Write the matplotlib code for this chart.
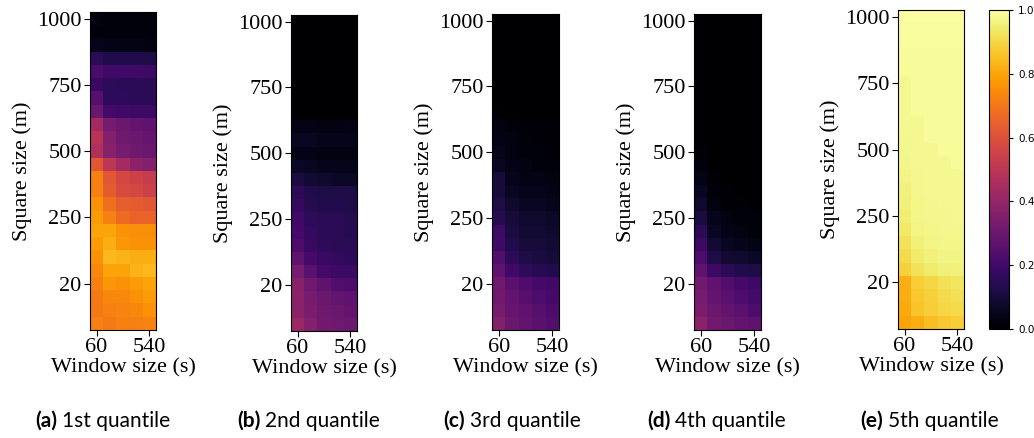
import numpy as np
import matplotlib.pyplot as plt

# window sizes (s) -> columns, square sizes (m) -> rows (top to bottom)
window_sizes = [60, 180, 300, 420, 540]
square_sizes = [1000, 950, 900, 850, 800, 750, 700, 650, 600, 550, 500, 450,
                400, 350, 300, 250, 200, 150, 100, 50, 20, 10, 5, 1]
shown_windows = [60, 540]
shown_squares = [1000, 750, 500, 250, 20]

q1 = [[0.03, 0.02, 0.02, 0.02, 0.02],
      [0.02, 0.02, 0.02, 0.02, 0.02],
      [0.05, 0.04, 0.04, 0.04, 0.03],
      [0.15, 0.13, 0.13, 0.13, 0.12],
      [0.22, 0.20, 0.20, 0.20, 0.19],
      [0.18, 0.16, 0.15, 0.15, 0.15],
      [0.25, 0.16, 0.16, 0.15, 0.15],
      [0.30, 0.21, 0.20, 0.19, 0.19],
      [0.44, 0.33, 0.30, 0.28, 0.27],
      [0.49, 0.36, 0.31, 0.30, 0.29],
      [0.47, 0.37, 0.33, 0.31, 0.30],
      [0.62, 0.50, 0.44, 0.38, 0.36],
      [0.72, 0.62, 0.57, 0.55, 0.53],
      [0.72, 0.63, 0.58, 0.57, 0.55],
      [0.76, 0.68, 0.64, 0.63, 0.62],
      [0.78, 0.72, 0.67, 0.65, 0.65],
      [0.80, 0.80, 0.76, 0.75, 0.75],
      [0.78, 0.82, 0.77, 0.76, 0.76],
      [0.76, 0.84, 0.83, 0.82, 0.82],
      [0.74, 0.80, 0.80, 0.83, 0.84],
      [0.72, 0.77, 0.76, 0.78, 0.80],
      [0.71, 0.74, 0.74, 0.76, 0.78],
      [0.71, 0.72, 0.73, 0.74, 0.76],
      [0.72, 0.71, 0.72, 0.72, 0.73]]

q2 = [[0.00, 0.00, 0.00, 0.00, 0.00],
      [0.00, 0.00, 0.00, 0.00, 0.00],
      [0.00, 0.00, 0.00, 0.00, 0.00],
      [0.00, 0.00, 0.00, 0.00, 0.00],
      [0.00, 0.00, 0.00, 0.00, 0.00],
      [0.00, 0.00, 0.00, 0.00, 0.00],
      [0.00, 0.00, 0.00, 0.00, 0.00],
      [0.00, 0.00, 0.00, 0.00, 0.00],
      [0.04, 0.04, 0.03, 0.03, 0.04],
      [0.06, 0.06, 0.05, 0.05, 0.05],
      [0.04, 0.04, 0.03, 0.03, 0.03],
      [0.07, 0.06, 0.05, 0.05, 0.05],
      [0.11, 0.09, 0.08, 0.07, 0.07],
      [0.15, 0.13, 0.12, 0.12, 0.12],
      [0.17, 0.14, 0.13, 0.13, 0.12],
      [0.20, 0.16, 0.15, 0.15, 0.14],
      [0.21, 0.17, 0.15, 0.15, 0.14],
      [0.23, 0.18, 0.16, 0.15, 0.15],
      [0.27, 0.21, 0.18, 0.17, 0.16],
      [0.33, 0.26, 0.21, 0.19, 0.19],
      [0.37, 0.31, 0.27, 0.24, 0.23],
      [0.38, 0.33, 0.30, 0.28, 0.27],
      [0.38, 0.34, 0.31, 0.30, 0.28],
      [0.42, 0.36, 0.32, 0.31, 0.30]]

q3 = [[0.00, 0.00, 0.00, 0.00, 0.00],
      [0.00, 0.00, 0.00, 0.00, 0.00],
      [0.00, 0.00, 0.00, 0.00, 0.00],
      [0.00, 0.00, 0.00, 0.00, 0.00],
      [0.00, 0.00, 0.00, 0.00, 0.00],
      [0.00, 0.00, 0.00, 0.00, 0.00],
      [0.00, 0.00, 0.00, 0.00, 0.00],
      [0.01, 0.00, 0.00, 0.00, 0.00],
      [0.03, 0.02, 0.01, 0.01, 0.01],
      [0.04, 0.03, 0.02, 0.01, 0.01],
      [0.05, 0.03, 0.02, 0.02, 0.01],
      [0.06, 0.04, 0.03, 0.02, 0.02],
      [0.10, 0.05, 0.04, 0.04, 0.03],
      [0.10, 0.06, 0.05, 0.05, 0.04],
      [0.12, 0.08, 0.06, 0.06, 0.05],
      [0.14, 0.10, 0.08, 0.08, 0.07],
      [0.19, 0.11, 0.09, 0.09, 0.08],
      [0.20, 0.13, 0.10, 0.10, 0.09],
      [0.24, 0.15, 0.12, 0.11, 0.10],
      [0.27, 0.20, 0.16, 0.14, 0.13],
      [0.31, 0.26, 0.23, 0.21, 0.20],
      [0.32, 0.28, 0.25, 0.23, 0.21],
      [0.33, 0.29, 0.27, 0.25, 0.23],
      [0.36, 0.30, 0.28, 0.26, 0.24]]

q4 = [[0.00, 0.00, 0.00, 0.00, 0.00],
      [0.00, 0.00, 0.00, 0.00, 0.00],
      [0.00, 0.00, 0.00, 0.00, 0.00],
      [0.00, 0.00, 0.00, 0.00, 0.00],
      [0.00, 0.00, 0.00, 0.00, 0.00],
      [0.00, 0.00, 0.00, 0.00, 0.00],
      [0.00, 0.00, 0.00, 0.00, 0.00],
      [0.00, 0.00, 0.00, 0.00, 0.00],
      [0.00, 0.00, 0.00, 0.00, 0.00],
      [0.00, 0.00, 0.00, 0.00, 0.00],
      [0.01, 0.00, 0.00, 0.00, 0.00],
      [0.02, 0.00, 0.00, 0.00, 0.00],
      [0.04, 0.01, 0.00, 0.00, 0.00],
      [0.06, 0.02, 0.01, 0.00, 0.00],
      [0.08, 0.03, 0.01, 0.01, 0.00],
      [0.11, 0.05, 0.03, 0.02, 0.02],
      [0.15, 0.06, 0.04, 0.03, 0.02],
      [0.19, 0.09, 0.06, 0.05, 0.04],
      [0.23, 0.12, 0.09, 0.08, 0.07],
      [0.27, 0.19, 0.15, 0.13, 0.12],
      [0.32, 0.27, 0.24, 0.21, 0.19],
      [0.33, 0.28, 0.26, 0.23, 0.21],
      [0.34, 0.30, 0.28, 0.26, 0.23],
      [0.38, 0.32, 0.30, 0.28, 0.27]]

q5 = [[0.995, 0.995, 0.995, 0.995, 0.995],
      [0.99, 0.99, 0.99, 0.99, 0.99],
      [0.99, 0.99, 0.99, 0.99, 0.99],
      [0.985, 0.985, 0.985, 0.985, 0.985],
      [0.985, 0.985, 0.985, 0.985, 0.985],
      [0.98, 0.985, 0.985, 0.985, 0.985],
      [0.98, 0.985, 0.985, 0.985, 0.985],
      [0.98, 0.985, 0.985, 0.985, 0.985],
      [0.98, 0.98, 0.985, 0.985, 0.985],
      [0.975, 0.98, 0.985, 0.985, 0.985],
      [0.975, 0.98, 0.98, 0.985, 0.985],
      [0.97, 0.98, 0.98, 0.98, 0.985],
      [0.965, 0.975, 0.98, 0.98, 0.98],
      [0.96, 0.975, 0.98, 0.98, 0.98],
      [0.955, 0.97, 0.975, 0.98, 0.98],
      [0.95, 0.97, 0.975, 0.975, 0.98],
      [0.94, 0.965, 0.97, 0.975, 0.975],
      [0.925, 0.955, 0.965, 0.97, 0.97],
      [0.91, 0.945, 0.96, 0.965, 0.965],
      [0.89, 0.925, 0.945, 0.955, 0.96],
      [0.82, 0.88, 0.90, 0.92, 0.93],
      [0.82, 0.87, 0.89, 0.91, 0.92],
      [0.81, 0.86, 0.88, 0.90, 0.91],
      [0.80, 0.82, 0.85, 0.87, 0.88]]

panels = [q1, q2, q3, q4, q5]
captions = [("(a)", "1st quantile"), ("(b)", "2nd quantile"), ("(c)", "3rd quantile"),
            ("(d)", "4th quantile"), ("(e)", "5th quantile")]

W, H = 1034, 438
# axes boxes in pixels: left, top, right, bottom
boxes = [(90, 12, 156, 330), (291, 15, 357, 331), (492, 14, 559, 330),
         (694, 14, 761, 330), (898, 10, 964, 329)]
cap_x = [35, 237, 443, 647, 860]

serif = ['Liberation Serif', 'DejaVu Serif']

fig = plt.figure(figsize=(W / 100, H / 100), dpi=100)

im = None
tags = []
for data, box in zip(panels, boxes):
    l, t, r, b = box
    ax = fig.add_axes([l / W, (H - b) / H, (r - l) / W, (b - t) / H])
    im = ax.imshow(np.array(data), cmap='inferno', vmin=0, vmax=1,
                   aspect='auto', interpolation='nearest')
    xt = [window_sizes.index(w) for w in shown_windows]
    yt = [square_sizes.index(s) for s in shown_squares]
    ax.set_xticks(xt)
    ax.set_xticklabels([str(w) for w in shown_windows], family=serif, fontsize=16)
    ax.set_yticks(yt)
    ax.set_yticklabels([str(s) for s in shown_squares], family=serif, fontsize=16)
    ax.tick_params(length=4, pad=2)
    ax.set_xlabel('Window size (s)', family=serif, fontsize=16, labelpad=1)
    ax.set_ylabel('Square size (m)', family=serif, fontsize=16, labelpad=4)

# captions: bold tag, then plain name right after it
for (tag, name), cx in zip(captions, cap_x):
    t1 = fig.text(cx / W, (H - 421) / H, tag, ha='left', va='center',
                  family='Lato', fontweight='bold', fontsize=15)
    tags.append((t1, name))

cax = fig.add_axes([989 / W, (H - 329) / H, 20 / W, 319 / H])
cb = fig.colorbar(im, cax=cax, ticks=[0.0, 0.2, 0.4, 0.6, 0.8, 1.0])
cb.ax.tick_params(labelsize=7.5, length=3)
cb.outline.set_linewidth(0.8)

fig.canvas.draw()
rend = fig.canvas.get_renderer()
for t1, name in tags:
    bb = t1.get_window_extent(rend)
    fig.text((bb.x1 + 5) / W, (H - 421) / H, name, ha='left', va='center',
             family='Lato', fontsize=15)

fig.savefig('out.png', dpi=100)
